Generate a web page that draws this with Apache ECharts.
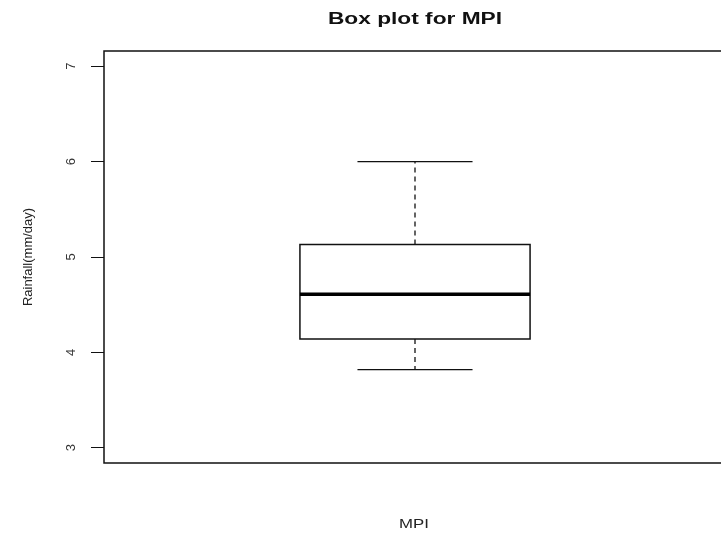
<!DOCTYPE html>
<html>
<head>
<meta charset="utf-8">
<script src="https://cdn.jsdelivr.net/npm/echarts@6/dist/echarts.min.js"></script>
<style>
  html, body { margin: 0; padding: 0; background: #fff; }
  #chart { width: 721px; height: 533px; }
</style>
</head>
<body>
<div id="chart"></div>
<script>
// data
const categories = ["MPI"];
// [low whisker, Q1, median, Q3, high whisker]
const boxValues = [[3.82, 4.14, 4.61, 5.13, 6.0]];
const yTicks = [3, 4, 5, 6, 7];

(() => {
  let myChart = echarts.init(document.querySelector("#chart"));
  const font = "'Liberation Sans', Arial, sans-serif";

  let option = {
    animation: false,
    backgroundColor: "#fff",
    grid: {
      left: 104,
      top: 51,
      width: 622,
      bottom: 70,
      outerBoundsMode: "none",
      show: true,
      borderColor: "#111",
      borderWidth: 1.5,
      backgroundColor: "transparent",
    },
    xAxis: {
      type: "category",
      data: categories,
      axisLine: { show: false },
      axisTick: { show: false },
      axisLabel: { show: false },
      splitLine: { show: false },
    },
    yAxis: {
      type: "value",
      min: 2.84,
      max: 7.16,
      name: "Rainfall(mm/day)",
      nameLocation: "middle",
      nameRotate: 90,
      nameGap: 69,
      nameTextStyle: { color: "#222", fontSize: 13, fontFamily: font },
      axisLine: { show: false },
      splitLine: { show: false },
      axisTick: {
        show: true,
        length: 13,
        customValues: yTicks,
        lineStyle: { color: "#111", width: 1 },
      },
      axisLabel: {
        customValues: yTicks,
        rotate: 90,
        margin: 26,
        color: "#333",
        fontSize: 13,
        fontFamily: font,
      },
    },
    graphic: [
      {
        type: "text",
        x: 415,
        y: 20,
        scaleX: 1.42,
        style: {
          text: "Box plot for MPI",
          fill: "#111",
          font: "bold 16px " + font,
          textAlign: "center",
          textVerticalAlign: "middle",
        },
      },
      {
        type: "text",
        x: 414,
        y: 525,
        scaleX: 1.4,
        style: {
          text: "MPI",
          fill: "#222",
          font: "12px " + font,
          textAlign: "center",
          textVerticalAlign: "middle",
        },
      },
    ],
    series: [
      {
        type: "custom",
        data: boxValues.map((d, i) => [i].concat(d)),
        renderItem: (params, api) => {
          const idx = api.value(0);
          const band = api.size([1, 0])[0];
          const half = band * 0.185;
          const cap = half * 0.5;
          const low = api.coord([idx, api.value(1)]);
          const q1 = api.coord([idx, api.value(2)]);
          const med = api.coord([idx, api.value(3)]);
          const q3 = api.coord([idx, api.value(4)]);
          const high = api.coord([idx, api.value(5)]);
          const cx = med[0];
          const thin = { stroke: "#111", lineWidth: 1.3 };
          const dash = { stroke: "#111", lineWidth: 1.3, lineDash: [5, 4] };
          return {
            type: "group",
            children: [
              { type: "line", shape: { x1: cx, y1: q3[1], x2: cx, y2: high[1] }, style: dash },
              { type: "line", shape: { x1: cx, y1: q1[1], x2: cx, y2: low[1] }, style: dash },
              { type: "line", shape: { x1: cx - cap, y1: high[1], x2: cx + cap, y2: high[1] }, style: thin },
              { type: "line", shape: { x1: cx - cap, y1: low[1], x2: cx + cap, y2: low[1] }, style: thin },
              {
                type: "rect",
                shape: { x: cx - half, y: q3[1], width: half * 2, height: q1[1] - q3[1] },
                style: { fill: "#fff", stroke: "#111", lineWidth: 1.5 },
              },
              {
                type: "line",
                shape: { x1: cx - half, y1: med[1], x2: cx + half, y2: med[1] },
                style: { stroke: "#000", lineWidth: 3.5 },
              },
            ],
          };
        },
      },
    ],
  };
  myChart.setOption(option);
  window.addEventListener("resize", () => {
    myChart.resize();
  });
})();
</script>
</body>
</html>
